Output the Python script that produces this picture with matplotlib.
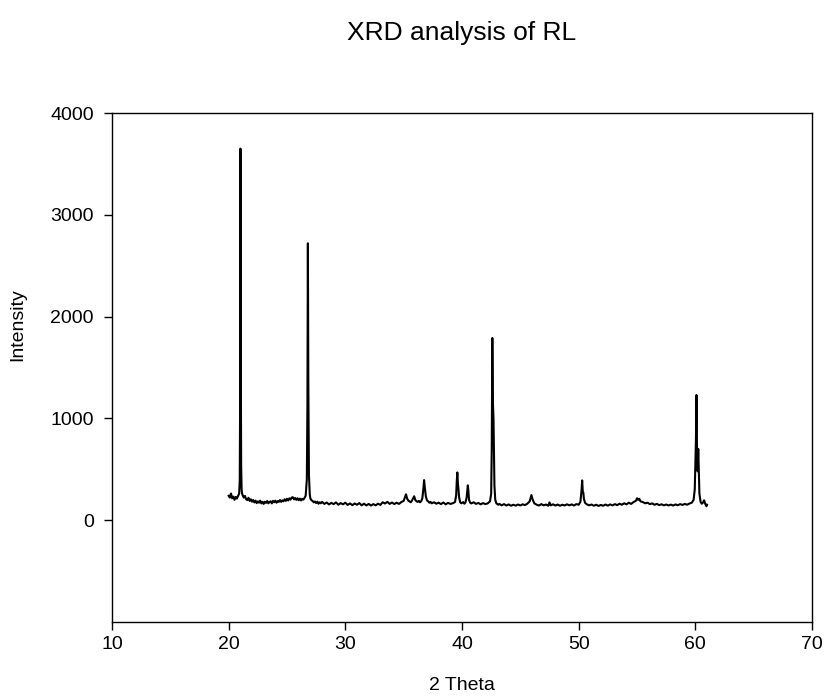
import matplotlib
matplotlib.use("Agg")
import matplotlib.pyplot as plt

plt.rcParams['font.family'] = ['Liberation Sans', 'DejaVu Sans']

# Data (2 theta, intensity)
two_theta = [
    20.0, 20.1, 20.2, 20.3, 20.4, 20.5, 20.6, 20.7, 20.8, 20.9,
    20.95, 20.98, 21.01, 21.04, 21.07, 21.11, 21.15, 21.2, 21.3, 21.4,
    21.5, 21.6, 21.7, 21.8, 21.9, 22.0, 22.1, 22.2, 22.3, 22.4,
    22.5, 22.6, 22.7, 22.8, 22.9, 23.0, 23.1, 23.2, 23.3, 23.4,
    23.5, 23.6, 23.7, 23.8, 23.9, 24.0, 24.1, 24.2, 24.3, 24.4,
    24.5, 24.6, 24.7, 24.8, 24.9, 25.0, 25.1, 25.2, 25.3, 25.4,
    25.5, 25.6, 25.7, 25.8, 25.9, 26.0, 26.1, 26.2, 26.3, 26.4,
    26.5, 26.6, 26.7, 26.75, 26.79, 26.83, 26.88, 26.95, 27.0, 27.1,
    27.2, 27.3, 27.4, 27.5, 27.6, 27.7, 27.8, 27.9, 28.0, 28.2,
    28.4, 28.6, 28.8, 29.0, 29.2, 29.4, 29.6, 29.8, 30.0, 30.2,
    30.4, 30.6, 30.8, 31.0, 31.2, 31.4, 31.6, 31.8, 32.0, 32.2,
    32.4, 32.6, 32.8, 33.0, 33.2, 33.4, 33.6, 33.8, 34.0, 34.2,
    34.4, 34.6, 34.8, 35.0, 35.1, 35.2, 35.3, 35.4, 35.5, 35.6,
    35.7, 35.8, 35.9, 36.0, 36.1, 36.2, 36.3, 36.4, 36.5, 36.6,
    36.7, 36.75, 36.8, 36.9, 37.0, 37.1, 37.2, 37.3, 37.4, 37.6,
    37.8, 38.0, 38.2, 38.4, 38.6, 38.8, 39.0, 39.2, 39.4, 39.5,
    39.55, 39.6, 39.65, 39.7, 39.75, 39.85, 39.95, 40.1, 40.2, 40.3,
    40.4, 40.5, 40.55, 40.6, 40.7, 40.8, 41.0, 41.2, 41.4, 41.6,
    41.8, 42.0, 42.2, 42.4, 42.5, 42.55, 42.6, 42.65, 42.7, 42.73,
    42.78, 42.85, 42.95, 43.1, 43.2, 43.4, 43.6, 43.8, 44.0, 44.2,
    44.4, 44.6, 44.8, 45.0, 45.2, 45.4, 45.6, 45.8, 45.95, 46.05,
    46.2, 46.4, 46.6, 46.8, 47.0, 47.2, 47.4, 47.5, 47.6, 47.8,
    48.0, 48.2, 48.4, 48.6, 48.8, 49.0, 49.2, 49.4, 49.6, 49.8,
    50.0, 50.15, 50.25, 50.3, 50.35, 50.4, 50.45, 50.55, 50.7, 50.9,
    51.1, 51.3, 51.5, 51.7, 51.9, 52.1, 52.3, 52.5, 52.7, 52.9,
    53.1, 53.3, 53.5, 53.7, 53.9, 54.1, 54.3, 54.5, 54.7, 54.9,
    55.0, 55.1, 55.2, 55.3, 55.5, 55.7, 55.9, 56.1, 56.3, 56.5,
    56.7, 56.9, 57.1, 57.3, 57.5, 57.7, 57.9, 58.1, 58.3, 58.5,
    58.7, 58.9, 59.1, 59.3, 59.5, 59.7, 59.85, 59.95, 60.05, 60.1,
    60.15, 60.2, 60.25, 60.3, 60.35, 60.45, 60.55, 60.65, 60.75, 60.85,
    60.95, 61.0,
]
intensity = [
    240, 222, 262, 215, 232, 200, 228, 212, 238, 262,
    390, 1100, 3650, 1600, 540, 300, 262, 245, 222, 238,
    205, 198, 220, 190, 205, 182, 198, 175, 192, 168,
    185, 172, 192, 165, 180, 160, 182, 170, 188, 166,
    178, 186, 165, 190, 176, 192, 172, 188, 180, 198,
    180, 194, 186, 205, 190, 210, 194, 215, 202, 222,
    226, 205, 218, 200, 215, 196, 212, 194, 210, 202,
    218, 240, 400, 1120, 2720, 1320, 450, 255, 215, 196,
    188, 175, 184, 168, 182, 162, 176, 166, 180, 160,
    174, 155, 170, 158, 175, 152, 168, 156, 172, 150,
    165, 148, 164, 152, 168, 146, 162, 145, 160, 144,
    158, 146, 162, 150, 176, 164, 180, 160, 174, 158,
    172, 160, 178, 190, 222, 254, 212, 192, 185, 176,
    190, 212, 235, 198, 186, 180, 190, 176, 186, 215,
    320, 394, 335, 235, 195, 185, 172, 180, 166, 176,
    162, 172, 158, 174, 156, 170, 160, 166, 178, 245,
    380, 469, 360, 300, 225, 175, 166, 178, 162, 175,
    225, 342, 285, 200, 172, 165, 176, 160, 170, 156,
    168, 158, 165, 185, 260, 700, 1790, 1150, 1000, 760,
    340, 200, 165, 152, 160, 146, 158, 144, 155, 142,
    152, 143, 154, 145, 156, 148, 162, 185, 247, 205,
    165, 152, 144, 158, 146, 154, 142, 175, 146, 156,
    144, 154, 142, 152, 145, 156, 146, 155, 144, 158,
    152, 180, 300, 391, 285, 270, 210, 170, 156, 146,
    154, 142, 152, 140, 150, 142, 154, 143, 155, 145,
    158, 148, 162, 152, 166, 156, 172, 160, 178, 190,
    215, 200, 210, 185, 178, 166, 172, 158, 165, 152,
    160, 148, 156, 146, 154, 145, 153, 144, 155, 147,
    158, 150, 160, 152, 164, 172, 200, 300, 780, 1230,
    620, 480, 700, 490, 260, 180, 162, 172, 195, 160,
    137, 152,
]

x_ticks = [10, 20, 30, 40, 50, 60, 70]
y_ticks = [0, 1000, 2000, 3000, 4000]

W, H = 827, 697
fig = plt.figure(figsize=(W / 100, H / 100), dpi=100)
ax = fig.add_axes([112 / W, 1 - 622 / H, 700 / W, 509 / H])

ax.plot(two_theta, intensity, color='black', linewidth=1.5)

ax.set_xlim(10, 70)
ax.set_ylim(-1000, 4000)
ax.set_xticks(x_ticks)
ax.set_yticks(y_ticks)
ax.tick_params(axis='y', direction='out', length=6, width=1, labelsize=14, pad=7)
ax.tick_params(axis='x', direction='out', length=6, width=1, labelsize=14, pad=4)
for s in ax.spines.values():
    s.set_linewidth(1)

fig.text(462 / W, 1 - 33 / H, 'XRD analysis of RL', ha='center', va='center', fontsize=19)
fig.text(462 / W, 1 - 685 / H, '2 Theta', ha='center', va='center', fontsize=14)
fig.text(18 / W, 1 - 325 / H, 'Intensity', ha='center', va='center', rotation=90, fontsize=14)

fig.savefig('out.png', dpi=100)
